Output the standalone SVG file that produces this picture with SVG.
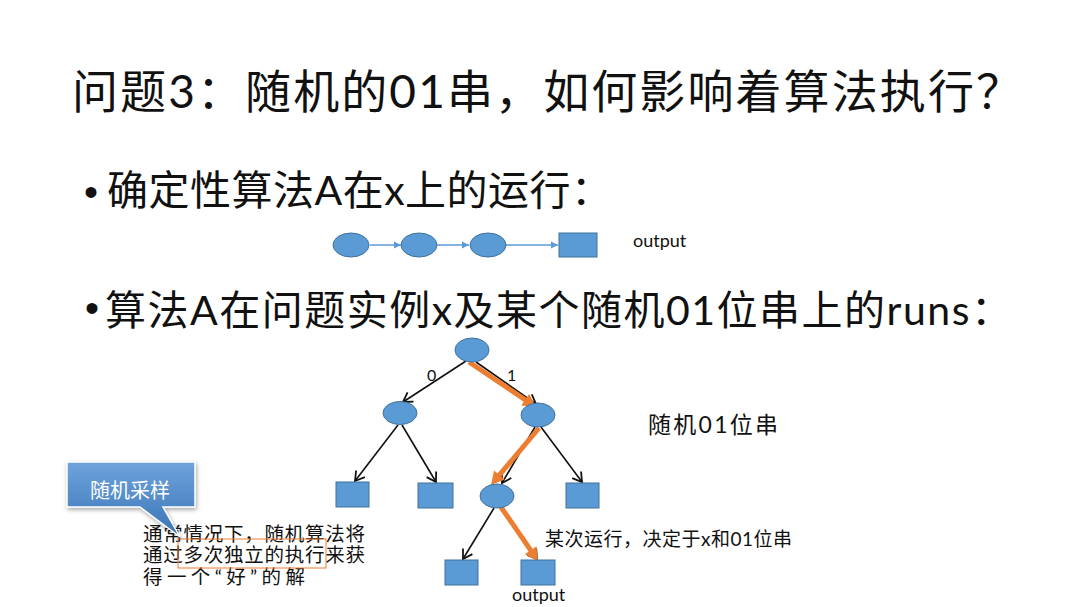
<svg xmlns="http://www.w3.org/2000/svg" width="1080" height="607" viewBox="0 0 1080 607">
<style>
.cjk{font-family:"Lato","Noto Sans CJK SC",sans-serif;fill:#111}
.node{fill:#5B9BD5;stroke:#41719C;stroke-width:1}
.blk{stroke:#111;stroke-width:1.6;fill:none;marker-end:url(#ah)}
.org{stroke:#ED7D31;stroke-width:5;fill:none;marker-end:url(#oh)}
.blu{stroke:#5B9BD5;stroke-width:1.5;fill:none;marker-end:url(#bh)}
</style>
<defs>
<marker id="ah" viewBox="-11 -7 13 14" markerWidth="13" markerHeight="14" refX="0" refY="0" orient="auto" markerUnits="userSpaceOnUse">
<path d="M-9,-5.5 L0,0 L-9,5.5" fill="none" stroke="#111" stroke-width="1.8"/>
</marker>
<marker id="oh" viewBox="-1 -8 16 16" markerWidth="16" markerHeight="16" refX="2" refY="0" orient="auto" markerUnits="userSpaceOnUse">
<path d="M0,-7 L13,0 L0,7 Z" fill="#ED7D31"/>
</marker>
<marker id="bh" viewBox="-1 -5 9 10" markerWidth="9" markerHeight="10" refX="7" refY="0" orient="auto" markerUnits="userSpaceOnUse">
<path d="M0,-3.5 L7,0 L0,3.5 Z" fill="#5B9BD5"/>
</marker>
<linearGradient id="cg" x1="0" y1="0" x2="0" y2="1">
<stop offset="0" stop-color="#6EA3DC"/>
<stop offset="1" stop-color="#3A74B6"/>
</linearGradient>
<filter id="sh" x="-20%" y="-20%" width="140%" height="160%">
<feDropShadow dx="1" dy="2" stdDeviation="2" flood-color="#000" flood-opacity="0.35"/>
</filter>
</defs>
<rect width="1080" height="607" fill="#fff"/>

<text class="cjk" x="72" y="108" font-size="46" textLength="950" lengthAdjust="spacing">问题3：随机的01串，如何影响着算法执行？</text>

<text x="84" y="206" font-size="40" font-family="Liberation Sans, sans-serif" fill="#111">•</text>
<text class="cjk" x="107" y="205" font-size="41" textLength="505" lengthAdjust="spacing">确定性算法A在x上的运行：</text>

<text x="85" y="322" font-size="40" font-family="Liberation Sans, sans-serif" fill="#111">•</text>
<text class="cjk" x="105" y="325" font-size="41" textLength="907" lengthAdjust="spacing">算法A在问题实例x及某个随机01位串上的runs：</text>

<g id="chain-connectors">
<line class="blu" x1="370" y1="245" x2="401" y2="245"/>
<line class="blu" x1="437" y1="245" x2="469" y2="245"/>
<line class="blu" x1="506" y1="245" x2="558" y2="245"/>
</g>
<g id="c1"><ellipse class="node" cx="351" cy="245" rx="18" ry="12"/></g>
<g id="c2"><ellipse class="node" cx="419" cy="245" rx="18" ry="12"/></g>
<g id="c3"><ellipse class="node" cx="488" cy="245" rx="18" ry="12"/></g>
<g id="c4"><rect class="node" x="559" y="233" width="38" height="24"/></g>
<text class="cjk" x="633" y="247" font-size="18">output</text>

<g id="tree-connectors">
<line class="blk" x1="466" y1="361" x2="403" y2="402"/>
<line class="blk" x1="476" y1="362" x2="536" y2="404"/>
<line class="blk" x1="398" y1="425" x2="355" y2="481"/>
<line class="blk" x1="402" y1="425" x2="436" y2="482"/>
<line class="blk" x1="535" y1="427" x2="502" y2="483"/>
<line class="blk" x1="541" y1="427" x2="582" y2="482"/>
<line class="blk" x1="494" y1="508" x2="463" y2="559"/>
<line class="blk" x1="500" y1="508" x2="537" y2="559"/>
<line class="org" x1="469" y1="362" x2="526.9" y2="400.9"/>
<line class="org" x1="539" y1="428" x2="498.1" y2="476.6"/>
<line class="org" x1="501" y1="507" x2="531.8" y2="551.9"/>
</g>
<g id="root"><ellipse class="node" cx="472" cy="350" rx="17" ry="12"/></g>
<g id="n0"><ellipse class="node" cx="400" cy="413" rx="17" ry="11.5"/></g>
<g id="n1"><ellipse class="node" cx="538" cy="415" rx="17" ry="12"/></g>
<g id="n10"><ellipse class="node" cx="497" cy="496" rx="17" ry="12"/></g>
<g id="s00"><rect class="node" x="336" y="482" width="33" height="25"/></g>
<g id="s01"><rect class="node" x="418" y="483" width="35" height="25"/></g>
<g id="s11"><rect class="node" x="566" y="483" width="33" height="25"/></g>
<g id="s100"><rect class="node" x="445" y="560" width="33" height="25"/></g>
<g id="s101"><rect class="node" x="521" y="560" width="34" height="25"/></g>

<text class="cjk" x="427" y="381" font-size="16">0</text>
<text class="cjk" x="507" y="381" font-size="16">1</text>
<text class="cjk" x="648" y="433" font-size="23" textLength="130" lengthAdjust="spacing">随机01位串</text>
<text class="cjk" x="545" y="546" font-size="19" textLength="247" lengthAdjust="spacing">某次运行，决定于x和01位串</text>
<text class="cjk" x="512" y="601" font-size="18">output</text>

<g id="note">
<text class="cjk" font-size="19.5"><tspan x="143" y="541" textLength="222" lengthAdjust="spacing">通常情况下，随机算法将</tspan><tspan x="143" y="562" textLength="222" lengthAdjust="spacing">通过多次独立的执行来获</tspan><tspan x="143" y="584" textLength="162" lengthAdjust="spacing">得一个“好”的解</tspan></text>
<rect x="178" y="539" width="148" height="29" fill="none" stroke="#ED7D31" stroke-width="1"/>
</g>

<g id="callout">
<path d="M67,462 H195 V507 H163 L180,537 L140,507 H67 Z" fill="url(#cg)" stroke="#fff" stroke-width="1.5" filter="url(#sh)"/>
<text x="90" y="498" font-size="20" font-family="Noto Sans CJK SC, sans-serif" fill="#fff" textLength="80" lengthAdjust="spacing">随机采样</text>
</g>
</svg>
